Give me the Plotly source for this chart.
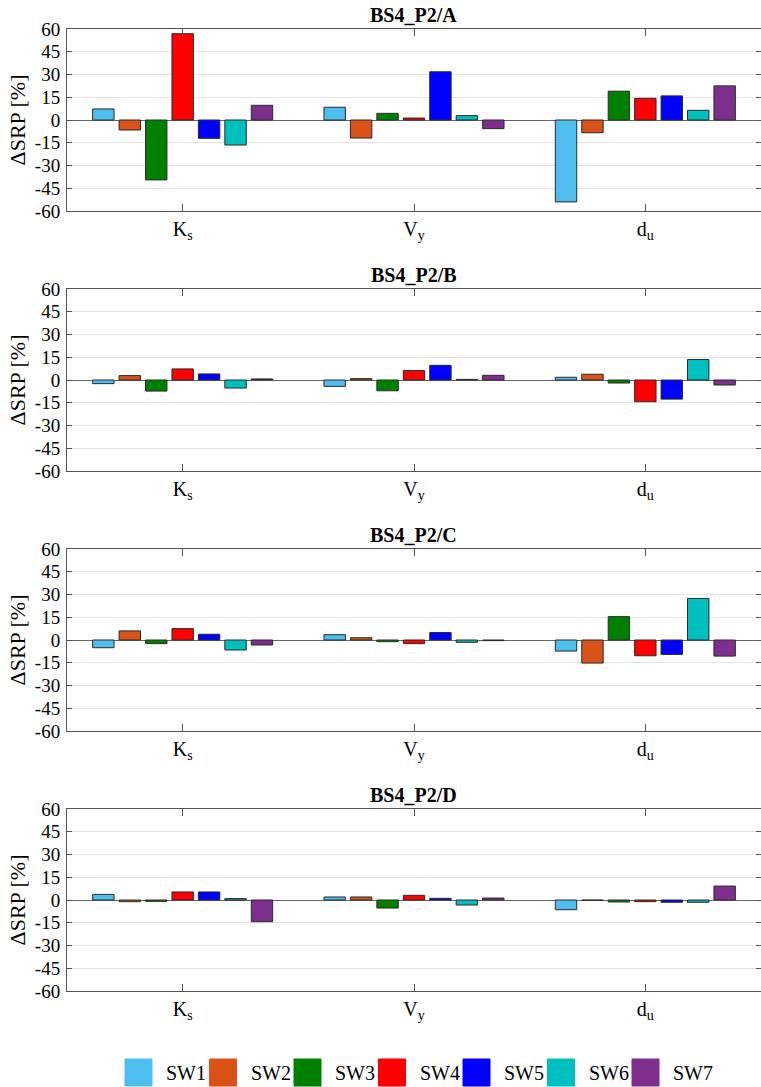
import plotly.graph_objects as go

# Parameters (x categories) and shear-wall configurations (series)
params = ["K<sub>s</sub>", "V<sub>y</sub>", "d<sub>u</sub>"]
series = ["SW1", "SW2", "SW3", "SW4", "SW5", "SW6", "SW7"]
colors = ["#4DBEEE", "#D95319", "#008000", "#FF0000", "#0000FF", "#00BFBF", "#7E2F8E"]
panel_titles = ["BS4_P2/A", "BS4_P2/B", "BS4_P2/C", "BS4_P2/D"]
y_ticks = [-60, -45, -30, -15, 0, 15, 30, 45, 60]

# ΔSRP [%] per panel: one list per series, values for Ks, Vy, du
srp_A = {
    "SW1": [7.3, 8.4, -54.0],
    "SW2": [-6.6, -11.9, -8.4],
    "SW3": [-39.5, 4.4, 19.0],
    "SW4": [56.9, 1.3, 14.3],
    "SW5": [-12.1, 31.8, 15.9],
    "SW6": [-16.5, 2.9, 6.4],
    "SW7": [9.7, -5.7, 22.5],
}
srp_B = {
    "SW1": [-2.4, -4.2, 1.8],
    "SW2": [2.9, 0.9, 3.8],
    "SW3": [-7.3, -7.1, -2.0],
    "SW4": [7.3, 6.2, -14.3],
    "SW5": [4.0, 9.7, -12.6],
    "SW6": [-5.3, 0.4, 13.5],
    "SW7": [0.7, 3.1, -3.3],
}
srp_C = {
    "SW1": [-5.1, 3.5, -7.3],
    "SW2": [6.0, 1.5, -15.2],
    "SW3": [-2.4, -1.1, 15.4],
    "SW4": [7.5, -2.4, -10.4],
    "SW5": [3.8, 4.9, -9.5],
    "SW6": [-6.6, -1.5, 27.4],
    "SW7": [-3.3, -0.4, -10.6],
}
srp_D = {
    "SW1": [3.7, 2.0, -6.4],
    "SW2": [-1.1, 2.0, -0.2],
    "SW3": [-0.9, -5.3, -1.3],
    "SW4": [5.3, 3.1, -1.1],
    "SW5": [5.3, 1.1, -1.5],
    "SW6": [0.9, -3.3, -1.5],
    "SW7": [-14.3, 1.3, 9.2],
}
panels = [srp_A, srp_B, srp_C, srp_D]

W, H = 761, 1087
SERIF = "Liberation Serif"

# Pixel rows (top, bottom) of each plot area
rows_px = [(29, 211), (289, 471), (549, 731), (809, 991)]
x_left_px = 67

fig = go.Figure()
layout = dict(
    template="simple_white",
    width=W, height=H,
    margin=dict(l=0, r=0, t=0, b=0, autoexpand=False),
    paper_bgcolor="white", plot_bgcolor="white",
    barmode="group", bargap=0.2, bargroupgap=0.19,
    showlegend=False,
    font=dict(family=SERIF, color="black"),
)
annotations = []
shapes = []

for i, (data, title) in enumerate(zip(panels, panel_titles)):
    k = "" if i == 0 else str(i + 1)
    xa, ya = "x" + k, "y" + k
    for name, col in zip(series, colors):
        fig.add_trace(go.Bar(
            x=params, y=data[name], name=name, xaxis=xa, yaxis=ya,
            marker=dict(color=col, line=dict(color="#2a2a2a", width=1)),
            offsetgroup=name,
        ))
    top, bot = rows_px[i]
    dom_y = [1 - bot / H, 1 - top / H]
    layout["xaxis" + k] = dict(
        domain=[x_left_px / W, 1], anchor=ya, type="category",
        categoryorder="array", categoryarray=params, range=[-0.5, 2.5],
        showline=True, linecolor="#555555", linewidth=1, mirror="ticks",
        ticks="inside", ticklen=7, tickcolor="#555555", automargin=False,
        showgrid=False, tickfont=dict(family=SERIF, size=20, color="black"),
        fixedrange=True,
    )
    layout["yaxis" + k] = dict(
        domain=dom_y, anchor=xa, range=[-60, 60],
        tickvals=y_ticks, ticktext=[str(v) for v in y_ticks],
        showline=True, linecolor="#555555", linewidth=1, mirror="ticks",
        ticks="inside", ticklen=5, tickcolor="#555555", automargin=False,
        showgrid=True, gridcolor="#e3e3e3", gridwidth=1,
        zeroline=True, zerolinecolor="#666666", zerolinewidth=1,
        tickfont=dict(family=SERIF, size=19, color="black"),
        ticklabelstandoff=2, fixedrange=True,
    )
    # panel title
    annotations.append(dict(
        text="<b>%s</b>" % title, xref="paper", yref="paper",
        x=(x_left_px + W) / 2 / W, y=1 - (top - 1) / H,
        xanchor="center", yanchor="bottom", showarrow=False,
        font=dict(family=SERIF, size=20, color="black"),
    ))
    # y-axis title
    annotations.append(dict(
        text="ΔSRP [%]", xref="paper", yref="paper",
        x=16.5 / W, y=1 - (top + bot) / 2 / H, textangle=-90,
        xanchor="center", yanchor="middle", showarrow=False,
        font=dict(family=SERIF, size=22, color="black"),
    ))

# Legend row: coloured squares with series names
sq, pitch, x0, y_top = 27, 84.5, 125, 1059
for j, (name, col) in enumerate(zip(series, colors)):
    xs = x0 + j * pitch
    shapes.append(dict(
        type="rect", xref="paper", yref="paper", opacity=1, layer="above",
        x0=xs / W, x1=(xs + sq) / W, y0=1 - (y_top + sq) / H, y1=1 - y_top / H,
        fillcolor=col, line=dict(color=col, width=1),
    ))
    annotations.append(dict(
        text=name, xref="paper", yref="paper",
        x=(xs + sq + 12) / W, y=1 - (y_top + sq / 2) / H,
        xanchor="left", yanchor="middle", showarrow=False,
        font=dict(family=SERIF, size=20, color="black"),
    ))

layout["annotations"] = annotations
layout["shapes"] = shapes
fig.update_layout(**layout)
fig.write_html("out.html")
